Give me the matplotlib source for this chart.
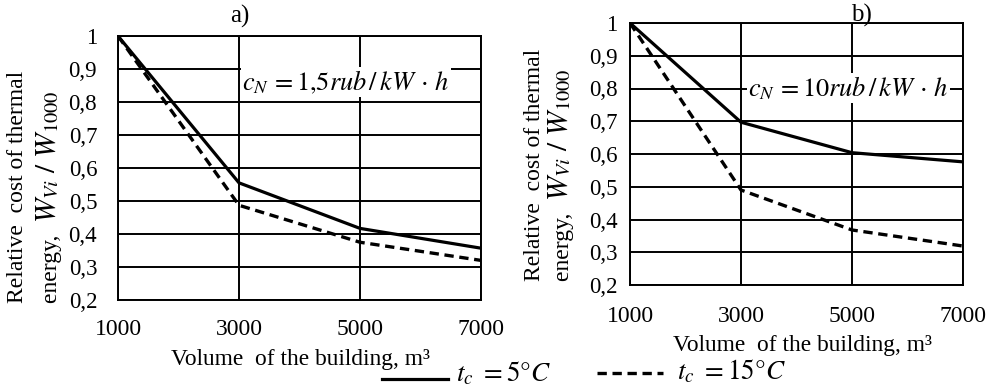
import matplotlib
matplotlib.use("Agg")
import matplotlib.pyplot as plt
from matplotlib.lines import Line2D

plt.rcParams['font.family'] = ['Liberation Serif', 'DejaVu Serif']
plt.rcParams['mathtext.fontset'] = 'stix'

volumes = [1000, 3000, 5000, 7000]
a_t5 = [1.0, 0.555, 0.417, 0.357]
a_t15 = [1.0, 0.487, 0.375, 0.320]
b_t5 = [1.0, 0.697, 0.604, 0.576]
b_t15 = [1.0, 0.490, 0.368, 0.319]
y_ticks = [0.2, 0.3, 0.4, 0.5, 0.6, 0.7, 0.8, 0.9, 1.0]
y_tick_labels = ["0,2", "0,3", "0,4", "0,5", "0,6", "0,7", "0,8", "0,9", "1"]
x_ticks = [1000, 3000, 5000, 7000]
x_tick_labels = ["1000", "3000", "5000", "7000"]

fig = plt.figure(figsize=(9.95, 3.88), dpi=100)
W, H = 995.0, 388.0
DASH = (0, (2.8, 1.7))

def px_axes(l, t, r, b):
    return fig.add_axes([l / W, 1 - b / H, (r - l) / W, (b - t) / H])

def fx(x):
    return x / W

def fy(y):
    return 1 - y / H

axa = px_axes(118, 36, 481, 300)
axb = px_axes(630, 23, 963, 285)

def style(ax, ypad, xpad):
    ax.set_xlim(1000, 7000)
    ax.set_ylim(0.2, 1.0)
    ax.set_xticks(x_ticks)
    ax.set_xticklabels(x_tick_labels, fontsize=17)
    ax.set_yticks(y_ticks)
    ax.set_yticklabels(y_tick_labels, fontsize=16.5)
    ax.tick_params(axis='both', length=0)
    ax.tick_params(axis='y', pad=ypad)
    ax.tick_params(axis='x', pad=xpad)
    ax.grid(True, color='black', linewidth=1.4)
    ax.set_axisbelow(True)
    for s in ax.spines.values():
        s.set_color('black')
        s.set_linewidth(1.4)

style(axa, 15, 14)
style(axb, 9, 15)

for ax, s5, s15 in [(axa, a_t5, a_t15), (axb, b_t5, b_t15)]:
    ax.plot(volumes, s5, color='black', linewidth=2.3, solid_joinstyle='round', zorder=3)
    ax.plot(volumes, s15, color='black', linewidth=2.4, linestyle=DASH, zorder=3)

fig.text(fx(240), fy(16), "a)", ha='center', va='center', fontsize=18)
fig.text(fx(861), fy(15), "b)", ha='center', va='center', fontsize=18)

axa.text(0.913, 0.826, r"$c_N\,=1{,}5rub\,/\,kW\,\cdot\,h$", transform=axa.transAxes,
         ha='right', va='center', fontsize=19,
         bbox=dict(facecolor='white', edgecolor='none', pad=1.0), zorder=4)
axb.text(0.957, 0.752, r"$c_N\,=10rub\,/\,kW\,\cdot\,h$", transform=axb.transAxes,
         ha='right', va='center', fontsize=19,
         bbox=dict(facecolor='white', edgecolor='none', pad=1.0), zorder=4)

# y labels
fig.text(fx(18), fy(303), "Relative  cost of thermal", rotation=90,
         ha='center', va='bottom', fontsize=17)
fig.text(fx(535), fy(281), "Relative  cost of thermal", rotation=90,
         ha='center', va='bottom', fontsize=17)

fig.canvas.draw()
renderer = fig.canvas.get_renderer()

def energy_label(xc, ybottom):
    t1 = fig.text(fx(xc + 2), fy(ybottom), "energy,  ", rotation=90,
                  ha='center', va='bottom', fontsize=17)
    bb = t1.get_window_extent(renderer)
    top_px = H - bb.y1
    fig.text(fx(xc - 3), fy(top_px), r"$W_{Vi}\ /\ W_{1000}$", rotation=90,
             ha='center', va='bottom', fontsize=21)

energy_label(50, 303)
energy_label(562, 281)

# x labels
fig.text(fx(301), fy(360), "Volume  of the building, m³", ha='center', va='center', fontsize=16.8)
fig.text(fx(803), fy(345), "Volume  of the building, m³", ha='center', va='center', fontsize=16.8)

# legend
fig.add_artist(Line2D([fx(382), fx(448)], [fy(379), fy(379)], color='black',
                      linewidth=2.3, transform=fig.transFigure))
fig.text(fx(456), fy(381), r"$t_c\ =5\degree C$", ha='left', va='baseline', fontsize=19.5)
fig.add_artist(Line2D([fx(597), fx(663)], [fy(373), fy(373)], color='black',
                      linewidth=2.4, linestyle=DASH, transform=fig.transFigure))
fig.text(fx(677), fy(379), r"$t_c\ =15\degree C$", ha='left', va='baseline', fontsize=19.5)

fig.savefig("out.png", dpi=100)
